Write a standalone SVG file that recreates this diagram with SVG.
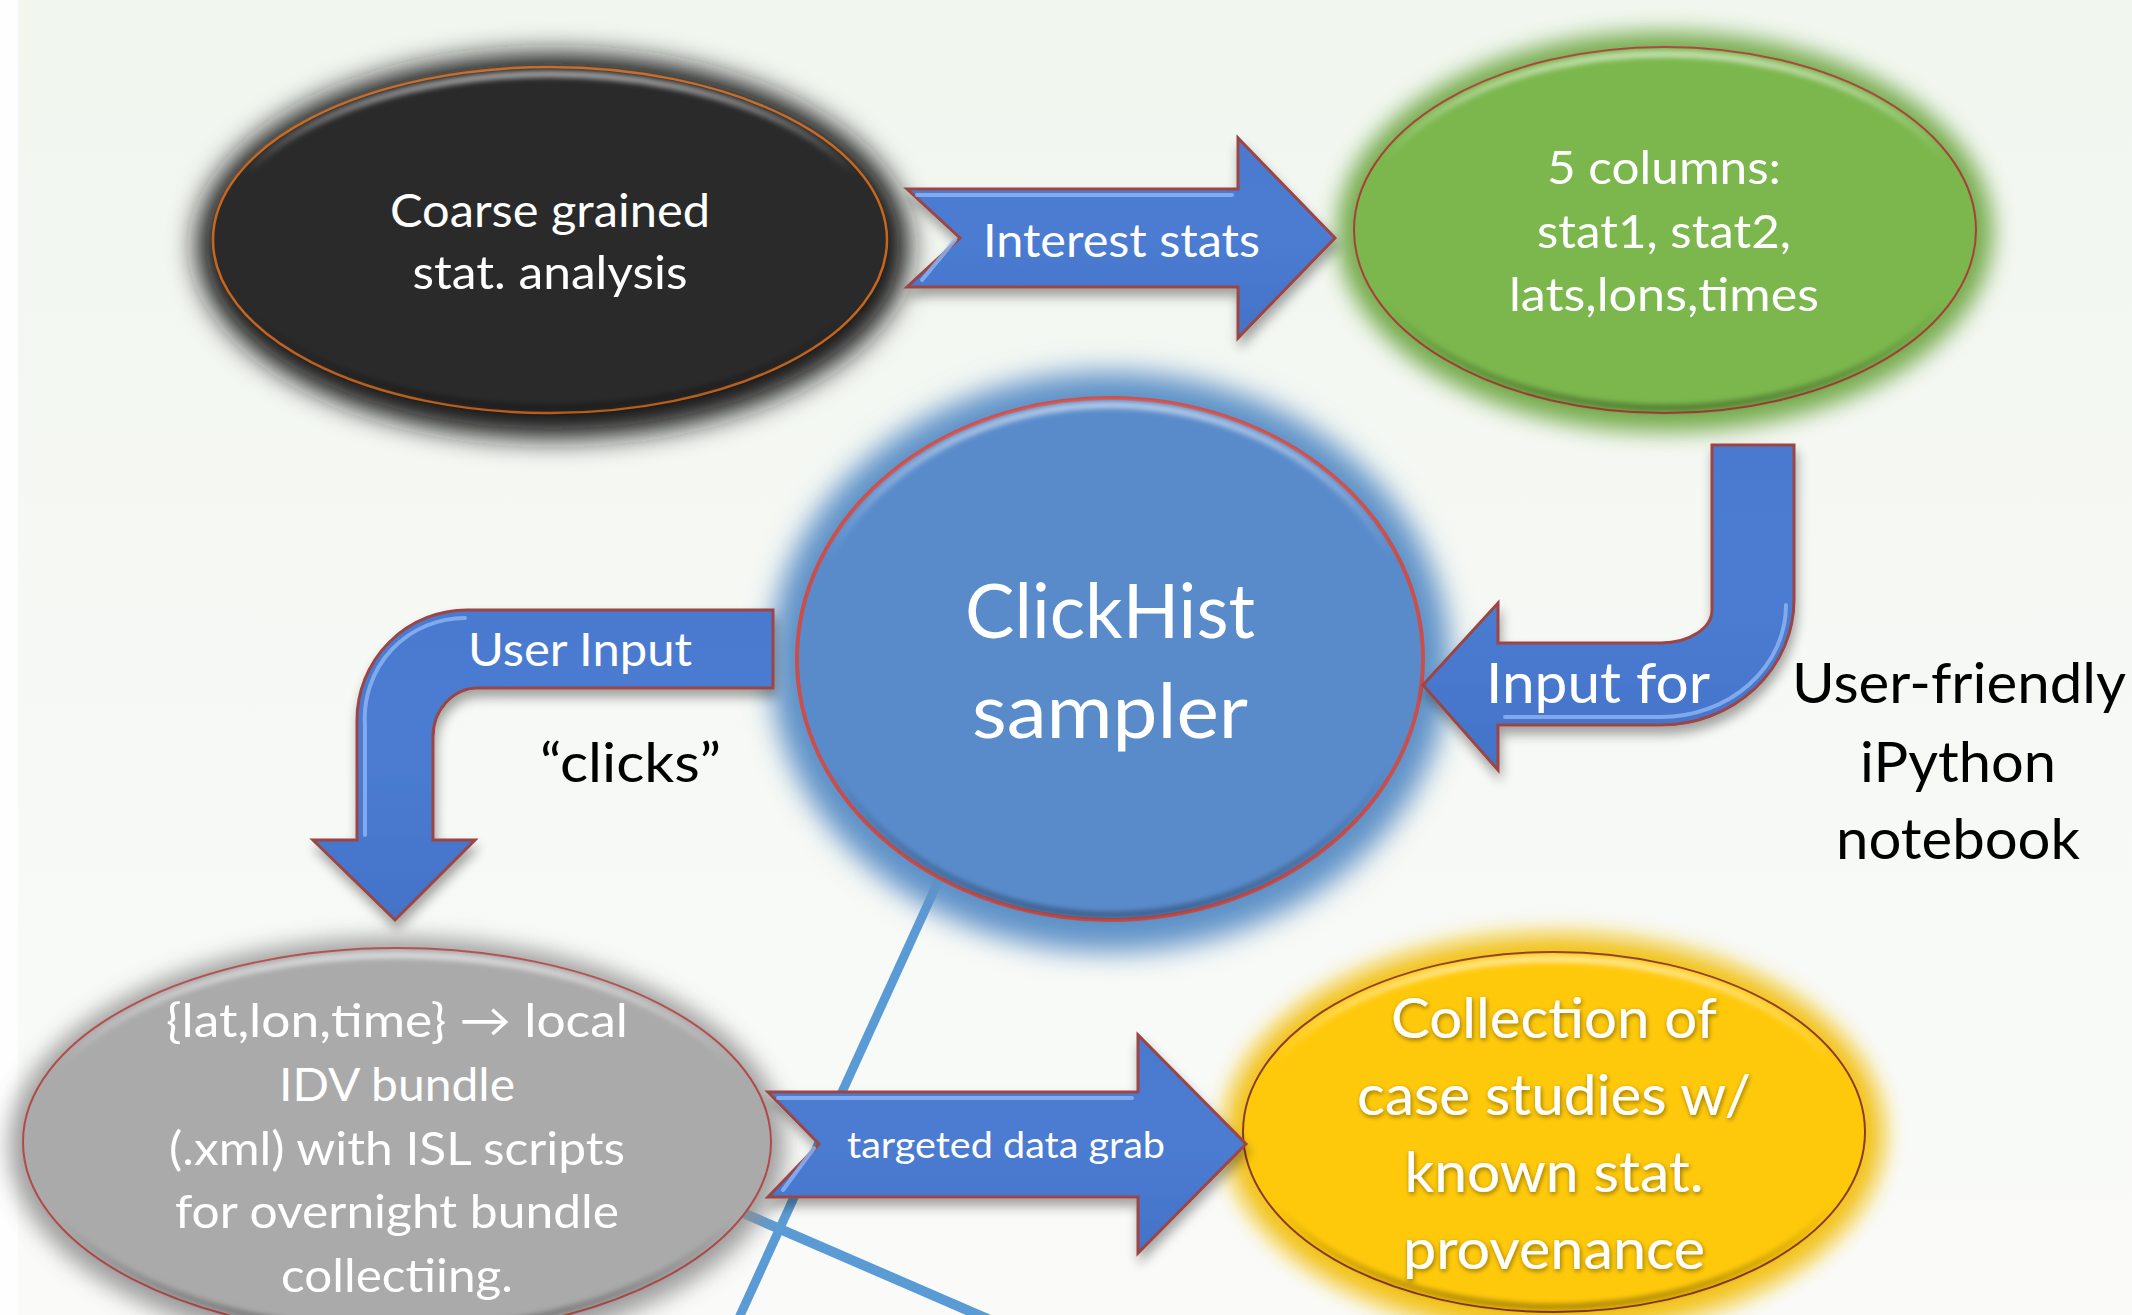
<svg xmlns="http://www.w3.org/2000/svg" width="2132" height="1315" viewBox="0 0 2132 1315">
<defs>
<linearGradient id="bg" x1="0" y1="0" x2="0" y2="1">
<stop offset="0" stop-color="#F1F6EF"/>
<stop offset="1" stop-color="#FAFBF9"/>
</linearGradient>
<linearGradient id="bevel" x1="0" y1="0" x2="0" y2="1">
<stop offset="0" stop-color="#FFFFFF" stop-opacity="0.55"/>
<stop offset="0.3" stop-color="#FFFFFF" stop-opacity="0"/>
<stop offset="0.7" stop-color="#000000" stop-opacity="0"/>
<stop offset="1" stop-color="#000000" stop-opacity="0.3"/>
</linearGradient>
<linearGradient id="arrowFill" x1="0" y1="0" x2="0" y2="1">
<stop offset="0" stop-color="#4A7AD0"/>
<stop offset="0.5" stop-color="#4B7CD2"/>
<stop offset="1" stop-color="#4373C8"/>
</linearGradient>
<filter id="blur18" x="-30%" y="-30%" width="160%" height="160%"><feGaussianBlur stdDeviation="14"/></filter>
<filter id="blur12" x="-30%" y="-30%" width="160%" height="160%"><feGaussianBlur stdDeviation="11"/></filter>
<filter id="blur3" x="-10%" y="-10%" width="120%" height="120%"><feGaussianBlur stdDeviation="2.5"/></filter>
<filter id="shadow" x="-20%" y="-20%" width="140%" height="150%">
<feGaussianBlur in="SourceAlpha" stdDeviation="6"/>
<feOffset dx="2" dy="8" result="b"/>
<feComponentTransfer><feFuncA type="linear" slope="0.35"/></feComponentTransfer>
<feMerge><feMergeNode/><feMergeNode in="SourceGraphic"/></feMerge>
</filter>
<filter id="txtglow" x="-10%" y="-20%" width="120%" height="140%">
<feGaussianBlur in="SourceAlpha" stdDeviation="2.5"/>
<feOffset dx="1" dy="2"/>
<feComponentTransfer><feFuncA type="linear" slope="0.45"/></feComponentTransfer>
<feMerge><feMergeNode/><feMergeNode in="SourceGraphic"/></feMerge>
</filter>
</defs>
<style>
.t{font-family:Lato,"Open Sans","Liberation Sans",sans-serif;fill:#FFFFFF;}
.k{font-family:Lato,"Open Sans","Liberation Sans",sans-serif;fill:#000000;}
.arrow{fill:url(#arrowFill);stroke:#9B4545;stroke-width:3;stroke-linejoin:miter;}
.hl{fill:none;stroke:#8FB6F2;stroke-width:4;stroke-linecap:round;opacity:0.8;}
.bev{fill:none;stroke:url(#bevel);stroke-width:7;}
.conn{stroke:#5B9BD5;fill:none;}
</style>
<rect x="0" y="0" width="2132" height="1315" fill="url(#bg)"/>
<rect x="0" y="0" width="18" height="1315" fill="#FDFEFD"/>

<g id="connectors">
<line class="conn" x1="948" y1="860" x2="738" y2="1320" stroke-width="9"/>
<line class="conn" x1="720" y1="1203" x2="990" y2="1320" stroke-width="10"/>
</g>

<g id="node-coarse">
<ellipse cx="553" cy="246" rx="356" ry="192" fill="#151515" filter="url(#blur18)"/>
<ellipse cx="550" cy="240" rx="337" ry="173" fill="#2A2A2A" stroke="#C8661E" stroke-width="2.5"/>
<ellipse cx="550" cy="241" rx="331" ry="167" class="bev" filter="url(#blur3)"/>
<text class="t" font-size="47" text-anchor="middle"><tspan x="550" y="227" textLength="320" lengthAdjust="spacingAndGlyphs">Coarse grained</tspan><tspan x="550" y="289" textLength="275" lengthAdjust="spacingAndGlyphs">stat. analysis</tspan></text>
</g>

<g id="node-columns">
<ellipse cx="1665" cy="232" rx="328" ry="200" fill="#6FA845" filter="url(#blur12)" opacity="0.95"/>
<ellipse cx="1665" cy="230" rx="311" ry="183" fill="#7BB74D" stroke="#A8403A" stroke-width="2"/>
<ellipse cx="1665" cy="231" rx="305" ry="177" class="bev" filter="url(#blur3)"/>
<text class="t" font-size="47" text-anchor="middle"><tspan x="1664" y="184" textLength="234" lengthAdjust="spacingAndGlyphs">5 columns:</tspan><tspan x="1664" y="248" textLength="254" lengthAdjust="spacingAndGlyphs">stat1, stat2,</tspan><tspan x="1664" y="311" textLength="310" lengthAdjust="spacingAndGlyphs">lats,lons,times</tspan></text>
</g>

<g id="node-clickhist">
<ellipse cx="1110" cy="662" rx="340" ry="290" fill="#5F92C8" filter="url(#blur18)"/>
<ellipse cx="1110" cy="659" rx="313" ry="261" fill="#598BCB" stroke="#C94F4C" stroke-width="4"/>
<ellipse cx="1110" cy="660" rx="307" ry="255" class="bev" filter="url(#blur3)"/>
<text class="t" font-size="76" text-anchor="middle"><tspan x="1110" y="638" textLength="290" lengthAdjust="spacingAndGlyphs">ClickHist</tspan><tspan x="1110" y="738" textLength="276" lengthAdjust="spacingAndGlyphs">sampler</tspan></text>
</g>

<g id="node-idv">
<ellipse cx="397" cy="1146" rx="388" ry="208" fill="#8E8E8E" filter="url(#blur12)" opacity="0.85"/>
<ellipse cx="397" cy="1142" rx="374" ry="194" fill="#AAAAAA" stroke="#B24A4A" stroke-width="2"/>
<ellipse cx="397" cy="1143" rx="368" ry="188" class="bev" filter="url(#blur3)"/>
<text class="t" font-size="47" text-anchor="middle"><tspan x="397" y="1037" textLength="462" lengthAdjust="spacingAndGlyphs">{lat,lon,time} → local</tspan><tspan x="397" y="1101" textLength="236" lengthAdjust="spacingAndGlyphs">IDV bundle</tspan><tspan x="397" y="1165" textLength="456" lengthAdjust="spacingAndGlyphs">(.xml) with ISL scripts</tspan><tspan x="397" y="1228" textLength="444" lengthAdjust="spacingAndGlyphs">for overnight bundle</tspan><tspan x="397" y="1292" textLength="232" lengthAdjust="spacingAndGlyphs">collectiing.</tspan></text>
</g>

<g id="node-collection">
<ellipse cx="1554" cy="1134" rx="330" ry="200" fill="#F2C00A" filter="url(#blur12)" opacity="0.95"/>
<ellipse cx="1554" cy="1132" rx="311" ry="180" fill="#FFC90B" stroke="#8A3A2A" stroke-width="2"/>
<ellipse cx="1554" cy="1133" rx="305" ry="174" class="bev" filter="url(#blur3)"/>
<g filter="url(#txtglow)">
<text class="t" font-size="56" text-anchor="middle"><tspan x="1554" y="1038" textLength="326" lengthAdjust="spacingAndGlyphs">Collection of</tspan><tspan x="1554" y="1115" textLength="394" lengthAdjust="spacingAndGlyphs">case studies w/</tspan><tspan x="1554" y="1192" textLength="299" lengthAdjust="spacingAndGlyphs">known stat.</tspan><tspan x="1554" y="1269" textLength="302" lengthAdjust="spacingAndGlyphs">provenance</tspan></text>
</g>
</g>

<g id="arrow-interest">
<path class="arrow" filter="url(#shadow)" d="M907,189 L1238,189 L1238,138 L1335,238 L1238,338 L1238,287 L907,287 L960,238 Z"/>
<path class="hl" d="M917,195 L1232,195 M922,280 L955,240"/>
<text class="t" font-size="47" x="983" y="257" textLength="277" lengthAdjust="spacingAndGlyphs">Interest stats</text>
</g>

<g id="arrow-userinput">
<path class="arrow" filter="url(#shadow)" d="M773,610 L467,610 A110,110 0 0 0 357,720 L357,840 L313,840 L395,920 L475,840 L433,840 L433,737 A45,49 0 0 1 478,688 L773,688 Z"/>
<path class="hl" d="M365,835 L365,725 A100,100 0 0 1 465,618"/>
<text class="t" font-size="47" x="468" y="666" textLength="224" lengthAdjust="spacingAndGlyphs">User Input</text>
</g>

<g id="arrow-inputfor">
<path class="arrow" filter="url(#shadow)" d="M1712,445 L1794,445 L1794,600 A133,125 0 0 1 1661,725 L1498,725 L1498,770 L1423,685 L1498,603 L1498,643 L1661,643 A51,33 0 0 0 1712,610 Z"/>
<path class="hl" d="M1786,605 A125,112 0 0 1 1661,717 L1505,717"/>
<text class="t" font-size="56" x="1486" y="703" textLength="224" lengthAdjust="spacingAndGlyphs">Input for</text>
</g>

<g id="arrow-targeted">
<path class="arrow" filter="url(#shadow)" d="M768,1092 L1138,1092 L1138,1035 L1246,1144 L1138,1253 L1138,1197 L768,1197 L819,1144 Z"/>
<path class="hl" d="M778,1098 L1132,1098 M783,1190 L814,1148"/>
<text class="t" font-size="37" x="847" y="1158" textLength="318" lengthAdjust="spacingAndGlyphs">targeted data grab</text>
</g>

<g id="labels">
<text class="k" font-size="54" x="540" y="782" textLength="181" lengthAdjust="spacingAndGlyphs">“clicks”</text>
<text class="k" font-size="56" text-anchor="middle"><tspan x="1959" y="703" textLength="334" lengthAdjust="spacingAndGlyphs">User-friendly</tspan><tspan x="1958" y="782" textLength="196" lengthAdjust="spacingAndGlyphs">iPython</tspan><tspan x="1958" y="859" textLength="244" lengthAdjust="spacingAndGlyphs">notebook</tspan></text>
</g>
</svg>
